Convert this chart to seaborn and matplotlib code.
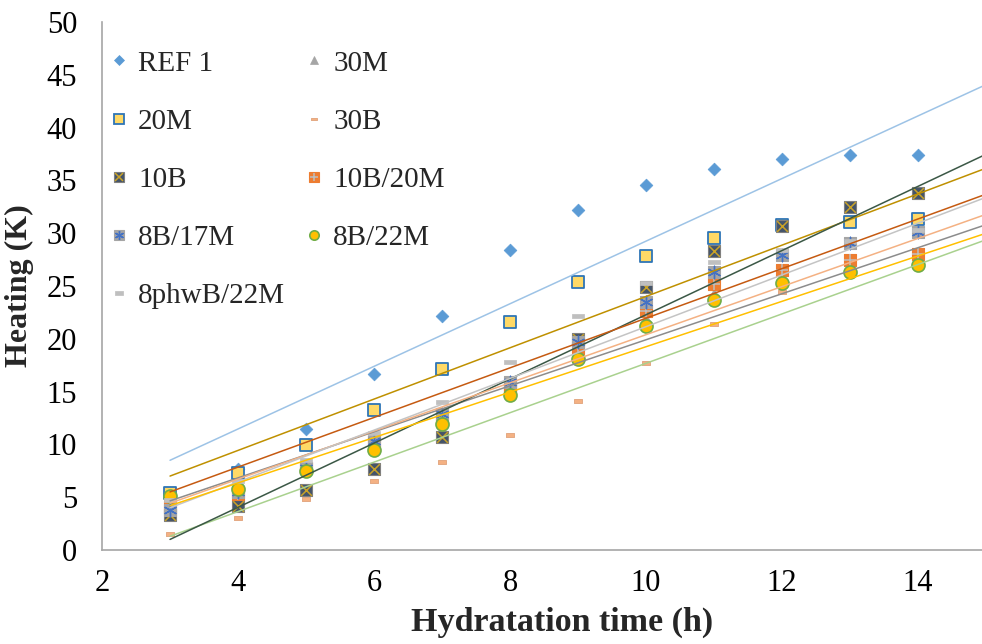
import numpy as np
import pandas as pd
import seaborn as sns
import matplotlib
matplotlib.use("Agg")
import matplotlib.pyplot as plt
from matplotlib.lines import Line2D
from matplotlib.markers import MarkerStyle

# ---------------- data ----------------
hours = [3, 4, 5, 6, 7, 8, 9, 10, 11, 12, 13, 14]

series_names = ["REF 1", "30M", "20M", "30B", "10B", "10B/20M",
                "8B/17M", "8B/22M", "8phwB/22M"]

ref1 = [5.4, 7.7, 11.5, 16.7, 22.2, 28.4, 32.2, 34.6, 36.1, 37.0, 37.4, 37.4]
m30 = [4.6, 6.3, 8.0, 10.0, 12.6, 15.3, 18.7, 22.0, 24.3, 26.0, 27.0, 27.6]
m20 = [5.4, 7.3, 9.9, 13.3, 17.1, 21.6, 25.4, 27.8, 29.5, 30.8, 31.1, 31.3]
b30 = [1.5, 3.0, 4.8, 6.5, 8.3, 10.9, 14.1, 17.7, 21.4, 24.4, 26.4, 27.3]
b10 = [3.3, 4.2, 5.7, 7.7, 10.7, 15.5, 20.0, 24.9, 28.3, 30.7, 32.5, 33.8]
b10m20 = [4.1, 5.3, 7.8, 10.3, 12.8, 15.3, 19.1, 22.6, 25.2, 26.5, 27.5, 28.0]
b8m17 = [3.8, 5.5, 7.8, 10.3, 12.9, 15.9, 19.7, 23.5, 26.3, 27.9, 29.1, 30.1]
b8m22 = [5.1, 5.8, 7.5, 9.5, 11.9, 14.7, 18.1, 21.2, 23.7, 25.3, 26.3, 27.0]
phw = [4.7, 6.5, 8.5, 11.1, 14.0, 17.8, 22.2, 25.3, 27.3, 28.4, 29.3, 30.3]

# linear trendlines as drawn in the reference: y = intercept + slope * x
trend_slope = [2.965, 2.18, 2.43, 2.34, 3.04, 2.28, 2.45, 2.15, 2.35]
trend_intercept = [-0.40, -1.89, -0.29, -5.72, -8.12, -2.41, -3.35, -2.25, -1.55]
trend_colors = ["#9DC3E6", "#8C8C8C", "#BF9000", "#A9D18E", "#3B5846",
                "#F4B183", "#C4C4C4", "#FFC000", "#C55A11"]
trend_x = [3, 16]

x_ticks = [2, 4, 6, 8, 10, 12, 14]
y_ticks = [0, 5, 10, 15, 20, 25, 30, 35, 40, 45, 50]

# ---------------- style ----------------
sns.set_style("white")
plt.rcParams["font.family"] = ["Liberation Serif", "DejaVu Serif"]

fig = plt.figure(figsize=(9.82, 6.44), dpi=100)
ax = fig.add_axes([0.1039, 0.146, 0.8961, 0.8198])

values = [ref1, m30, m20, b30, b10, b10m20, b8m17, b8m22, phw]

dash = MarkerStyle([(-1, -0.4), (1, -0.4), (1, 0.4), (-1, 0.4), (-1, -0.4)])

# marker specs: list of layers (marker, size, face, edge, lw)
specs = [
    [("D", 42, "#5B9BD5", "#5B9BD5", 0.5)],
    [("^", 50, "#A5A5A5", "#A5A5A5", 0.5)],
    [("s", 82, "#FFD966", "#2E75B6", 1.3)],
    [(dash, 40, "#F4B183", "#E0A27A", 0.6)],
    [("s", 82, "#44546A", "#7F7F7F", 0.8), ("x", 60, "#C9A227", "#C9A227", 1.1)],
    [("s", 82, "#ED7D31", "#ED7D31", 0.8), ("+", 70, "#BFBFBF", "#BFBFBF", 1.1)],
    [("s", 82, "#A5A5A5", "#A5A5A5", 0.8), ((6, 2, 0), 80, "#4472C4", "#4472C4", 1.0)],
    [("o", 88, "#FFC000", "#70AD47", 1.2)],
    [(dash, 75, "#BFBFBF", "#BFBFBF", 0.5)],
]

z = 2.0
for name, vals, layers in zip(series_names, values, specs):
    df = pd.DataFrame({"h": hours, "v": vals})
    for (mk, s, fc, ec, lw) in layers:
        ms = MarkerStyle(mk) if not isinstance(mk, MarkerStyle) else mk
        if ms.is_filled():
            sns.scatterplot(data=df, x="h", y="v", ax=ax, marker=mk, s=s,
                            color=fc, edgecolor=ec, linewidth=lw, zorder=z,
                            legend=False)
        else:
            sns.scatterplot(data=df, x="h", y="v", ax=ax, marker=mk, s=s,
                            color=fc, linewidth=lw, zorder=z, legend=False)
        z += 0.01

for i, name in enumerate(series_names):
    tx = np.array(trend_x, dtype=float)
    ty = trend_intercept[i] + trend_slope[i] * tx
    sns.lineplot(x=tx, y=ty, ax=ax, color=trend_colors[i], lw=1.1,
                 zorder=3, legend=False)

ax.set_xlim(2, 14.94)
ax.set_ylim(0, 50)
ax.set_xticks(x_ticks)
ax.set_yticks(y_ticks)
ax.tick_params(axis="both", labelsize=22, colors="#A6A6A6", labelcolor="black",
               direction="out", length=5, width=1)
ax.tick_params(axis="x", pad=9)
ax.tick_params(axis="y", pad=13)
for sp in ["top", "right"]:
    ax.spines[sp].set_visible(False)
for sp in ["left", "bottom"]:
    ax.spines[sp].set_color("#A6A6A6")
    ax.spines[sp].set_linewidth(1.2)

ax.set_xlabel("Hydratation time (h)", fontsize=24.5, fontweight="bold")
ax.xaxis.set_label_coords(0.523, -0.108)
ax.set_ylabel("Heating (K)", fontsize=23, fontweight="bold")
ax.yaxis.set_label_coords(-0.077, 0.5)

# legend handles
handles = []
for layers in specs:
    parts = []
    for (mk, s, fc, ec, lw) in layers:
        ms = MarkerStyle(mk) if not isinstance(mk, MarkerStyle) else mk
        msz = np.sqrt(s) * 0.72
        if ms.is_filled():
            parts.append(Line2D([], [], ls="", marker=mk, markersize=msz,
                                markerfacecolor=fc, markeredgecolor=ec,
                                markeredgewidth=lw))
        else:
            parts.append(Line2D([], [], ls="", marker=mk, markersize=msz,
                                color=fc, markeredgewidth=lw))
    handles.append(tuple(parts) if len(parts) > 1 else parts[0])

# row-major order in a 2-column legend
order = [0, 2, 4, 6, 8, 1, 3, 5, 7]
leg = ax.legend([handles[i] for i in order], [series_names[i] for i in order],
                ncol=2, loc="upper left",
                bbox_to_anchor=(-0.012, 0.98), frameon=False, fontsize=21,
                handlelength=0.67, handletextpad=0.33, columnspacing=0.65,
                labelspacing=1.09, borderaxespad=0.2)

fig.savefig("out.png", dpi=100)
